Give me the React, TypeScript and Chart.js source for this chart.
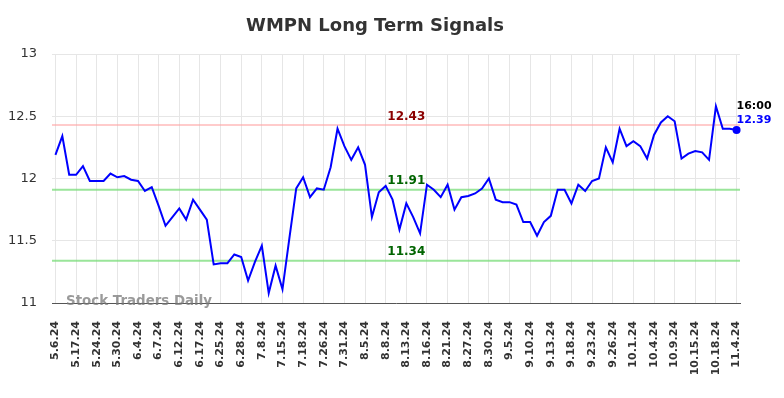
import React, { useEffect, useRef } from "react";
import { Chart, registerables } from "chart.js";

Chart.register(...registerables);

const tickLabels = [
  "5.6.24", "5.17.24", "5.24.24", "5.30.24", "6.4.24", "6.7.24", "6.12.24", "6.17.24",
  "6.25.24", "6.28.24", "7.8.24", "7.15.24", "7.18.24", "7.26.24", "7.31.24", "8.5.24",
  "8.8.24", "8.13.24", "8.16.24", "8.21.24", "8.27.24", "8.30.24", "9.5.24", "9.10.24",
  "9.13.24", "9.18.24", "9.23.24", "9.26.24", "10.1.24", "10.4.24", "10.9.24", "10.15.24",
  "10.18.24", "11.4.24",
];

const prices = [
  12.19, 12.34, 12.03, 12.03, 12.10, 11.98, 11.98, 11.98, 12.04, 12.01,
  12.02, 11.99, 11.98, 11.90, 11.93, 11.78, 11.62, 11.69, 11.76, 11.67,
  11.83, 11.75, 11.67, 11.31, 11.32, 11.32, 11.39, 11.37, 11.18, 11.33,
  11.46, 11.08, 11.30, 11.11, 11.52, 11.92, 12.01, 11.85, 11.92, 11.91,
  12.09, 12.40, 12.26, 12.15, 12.25, 12.11, 11.69, 11.89, 11.94, 11.83,
  11.59, 11.80, 11.69, 11.56, 11.95, 11.91, 11.85, 11.95, 11.75, 11.85,
  11.86, 11.88, 11.92, 12.00, 11.83, 11.81, 11.81, 11.79, 11.65, 11.65,
  11.54, 11.65, 11.70, 11.91, 11.91, 11.80, 11.95, 11.90, 11.98, 12.00,
  12.25, 12.13, 12.40, 12.26, 12.30, 12.26, 12.16, 12.35, 12.45, 12.50,
  12.46, 12.16, 12.20, 12.22, 12.21, 12.15, 12.58, 12.40, 12.40, 12.39,
];

const resistanceLevels = [12.43];
const supportLevels = [11.91, 11.34];
const lastTime = "16:00";
const title = "WMPN Long Term Signals";
const watermark = "Stock Traders Daily";

const FONT = "'DejaVu Sans', sans-serif";

const overlayPlugin = {
  id: "overlay",
  beforeDatasetsDraw(chart: any) {
    const { ctx, chartArea, scales } = chart;
    const y = scales.y;
    const x = scales.x;
    ctx.save();
    const drawLevel = (v: number, lineColor: string, textColor: string) => {
      const py = y.getPixelForValue(v);
      ctx.strokeStyle = lineColor;
      ctx.lineWidth = 2;
      ctx.beginPath();
      ctx.moveTo(chartArea.left, py);
      ctx.lineTo(chartArea.right, py);
      ctx.stroke();
      ctx.fillStyle = textColor;
      ctx.font = `bold 12px ${FONT}`;
      ctx.textAlign = "center";
      ctx.textBaseline = "middle";
      ctx.fillText(v.toFixed(2), x.getPixelForValue(51), py - 8.5);
    };
    resistanceLevels.forEach((v) => drawLevel(v, "rgba(255,160,160,0.55)", "#8b0000"));
    supportLevels.forEach((v) => drawLevel(v, "rgba(120,220,120,0.75)", "#006400"));
    ctx.font = `bold 13.4px ${FONT}`;
    ctx.fillStyle = "rgba(120,120,120,0.75)";
    ctx.textAlign = "left";
    ctx.textBaseline = "middle";
    ctx.fillText(watermark, chartArea.left + 14, chartArea.bottom - 1);
    ctx.restore();
  },
  afterDatasetsDraw(chart: any) {
    const { ctx, scales } = chart;
    const last = prices.length - 1;
    const px = scales.x.getPixelForValue(last);
    const py = scales.y.getPixelForValue(prices[last]);
    ctx.save();
    ctx.font = `bold 11px ${FONT}`;
    ctx.textAlign = "left";
    ctx.textBaseline = "middle";
    ctx.fillStyle = "#000000";
    ctx.fillText(lastTime, px, py - 24);
    ctx.fillStyle = "#0000ff";
    ctx.fillText(prices[last].toFixed(2), px, py - 10);
    ctx.font = `bold 18px ${FONT}`;
    ctx.fillStyle = "#333333";
    ctx.textAlign = "center";
    ctx.fillText(title, 375, 26);
    ctx.restore();
  },
};

export default function App() {
  const canvasRef = useRef<HTMLCanvasElement | null>(null);

  useEffect(() => {
    if (!canvasRef.current) return;
    const labels = prices.map((_, i) => (i % 3 === 0 ? tickLabels[i / 3] : ""));
    const last = prices.length - 1;
    const chart = new Chart(canvasRef.current, {
      type: "line",
      data: {
        labels,
        datasets: [
          {
            data: prices,
            borderColor: "#0000ff",
            backgroundColor: "#0000ff",
            borderWidth: 2,
            tension: 0,
            pointRadius: (c: any) => (c.dataIndex === last ? 4 : 0),
            pointBorderWidth: 0,
            pointHoverRadius: 0,
          },
        ],
      },
      options: {
        responsive: false,
        animation: false,
        layout: { padding: { top: 54, right: 44, left: 0, bottom: 0 } },
        plugins: {
          legend: { display: false },
          title: { display: false },
          tooltip: { enabled: false },
        },
        scales: {
          x: {
            type: "category",
            offset: true,
            grid: { offset: false, color: "#e6e6e6", drawTicks: false },
            border: { display: true, color: "#555555", width: 1 },
            afterBuildTicks: (s: any) => {
              s.ticks = s.ticks.filter((t: any) => t.value % 3 === 0);
            },
            afterFit: (s: any) => {
              s.height = 95;
            },
            ticks: {
              autoSkip: false,
              maxRotation: 90,
              minRotation: 90,
              padding: 18,
              color: "#333333",
              font: { family: FONT, size: 11, weight: "bold" },
              callback: (v: any) => tickLabels[Number(v) / 3],
            },
          },
          y: {
            min: 11,
            max: 13,
            grid: { color: "#e6e6e6", drawTicks: false },
            border: { display: false },
            afterFit: (s: any) => {
              s.width = 52;
            },
            ticks: {
              stepSize: 0.5,
              padding: 15,
              color: "#333333",
              font: { family: FONT, size: 13 },
              callback: (v: any) => String(Number(v)),
            },
          },
        },
      },
      plugins: [overlayPlugin],
    } as any);
    return () => chart.destroy();
  }, []);

  return (
    <div style={{ position: "fixed", left: 0, top: 0, width: 784, height: 398, background: "#ffffff" }}>
      <canvas ref={canvasRef} width={784} height={398} style={{ display: "block" }} />
    </div>
  );
}
